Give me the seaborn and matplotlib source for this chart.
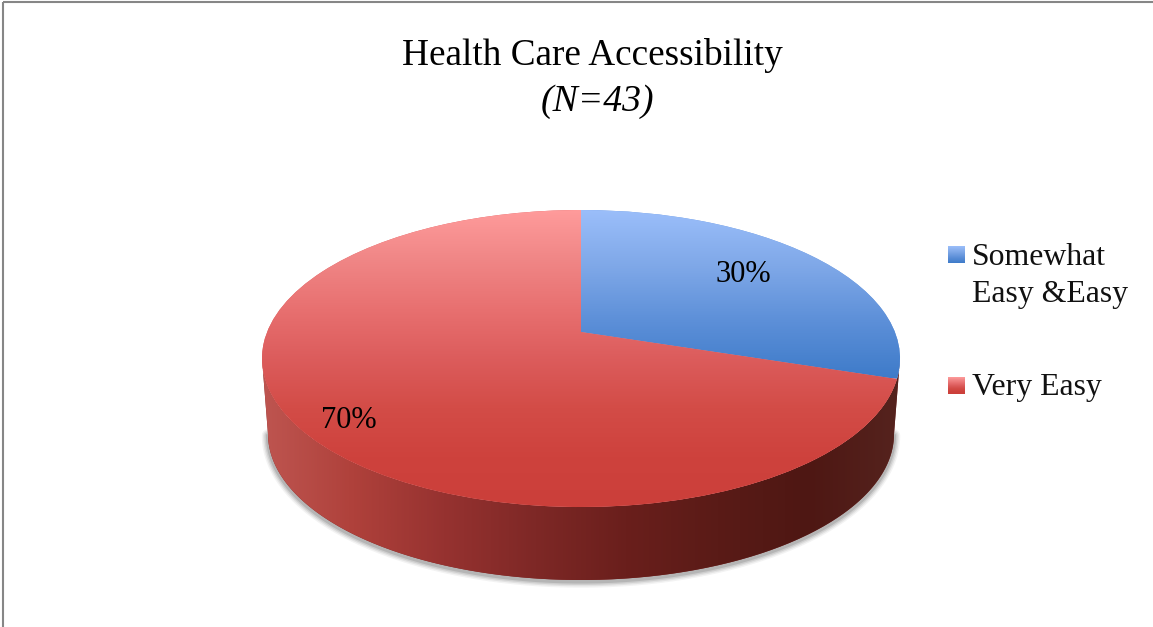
import numpy as np
import matplotlib
matplotlib.use("Agg")
import matplotlib.pyplot as plt
from matplotlib.patches import PathPatch, Rectangle
from matplotlib.path import Path
from matplotlib.transforms import Transform
import seaborn as sns

# ---- data ----
categories = ["Somewhat\nEasy &Easy", "Very Easy"]
values = [30, 70]
title_line = "Health Care Accessibility"
subtitle_line = "(N=43)"

# ---- style ----
sns.set_theme(style="white")
plt.rcParams["font.family"] = ["Liberation Serif", "DejaVu Serif"]

W, H = 1153, 627
blue_top = ["#9BBEFA", "#7FA8E8", "#5C8FD8", "#3E7BC9"]
red_top = ["#FF9B9B", "#F08686", "#E87070", "#DC5C5C", "#D34C47", "#CE423D", "#CB3F3A"]
red_side = ["#BE5550", "#AF413B", "#963230", "#7E2826", "#6A1F1C", "#5A1B17", "#4E1713", "#55231E"]
blue_cmap = sns.blend_palette(blue_top, as_cmap=True)
red_cmap = sns.blend_palette(red_top, as_cmap=True)
side_cmap = sns.blend_palette(red_side, as_cmap=True)

# geometry of the tilted disc, in figure pixels
CX = 581.0
TOP, APEX, BOTTOM = 210.0, 332.0, 507.0
RX = 319.0
DEPTH_BOTTOM = 580.0
RX_LOW, RY_LOW = 313.0, 146.0

C = (2 * APEX - TOP - BOTTOM) / (BOTTOM - TOP) * -1
A = TOP * (1 + C) - APEX
D = RX * np.sqrt(1 - C ** 2)


class Perspective(Transform):
    """Projects the unit-circle pie onto the tilted plane of the disc."""
    input_dims = output_dims = 2
    is_separable = False
    has_inverse = False

    def transform_non_affine(self, values):
        v = np.asarray(values, dtype=float)
        den = 1 + C * v[:, 1]
        return np.column_stack([CX + D * v[:, 0] / den, (A * v[:, 1] + APEX) / den])


fig = plt.figure(figsize=(W / 100, H / 100), dpi=100, facecolor="white")
ax = fig.add_axes([0, 0, 1, 1])

wedges, _, autotexts = ax.pie(
    values, startangle=90, counterclock=False, radius=1,
    colors=["#6C9ADF", "#DF6060"], autopct="%d%%", labels=None,
    wedgeprops={"linewidth": 0}, textprops={"fontsize": 22, "color": "black"},
)
ax.set(aspect="auto", xlim=(0, W), ylim=(H, 0))
ax.set_axis_off()

persp = Perspective()
grad_v = np.linspace(0, 1, 256)[:, None]
grad_h = np.linspace(0, 1, 512)[None, :]

# side wall of the disc
ELL_CY = (TOP + BOTTOM) / 2
ELL_RY = (BOTTOM - TOP) / 2
t = np.linspace(np.pi, 2 * np.pi, 240)
upper = np.column_stack([CX + RX * np.cos(t), ELL_CY - ELL_RY * np.sin(t)])
low_cy = DEPTH_BOTTOM - RY_LOW
lower = np.column_stack([CX + RX_LOW * np.cos(t), low_cy - RY_LOW * np.sin(t)])[::-1]
side_path = Path(np.vstack([upper, lower, upper[:1]]))

# soft shadow below the wall
for lw, alpha in zip([9, 7, 5, 3], [0.07, 0.10, 0.14, 0.20]):
    ax.plot(lower[:, 0], lower[:, 1] + 1.5, color="#555555", lw=lw, alpha=alpha,
            solid_capstyle="round", zorder=1)

side_patch = PathPatch(side_path, facecolor="#7E2826", edgecolor="none", zorder=2,
                       transform=ax.transData)
ax.add_patch(side_patch)
side_im = ax.imshow(grad_h, cmap=side_cmap, extent=(CX - RX, CX + RX, DEPTH_BOTTOM, TOP),
                    aspect="auto", zorder=2.1)
side_im.set_clip_path(side_patch)

# top faces, with vertical gradients
extents = [(CX - RX, CX + RX, 378, TOP), (CX - RX, CX + RX, BOTTOM, TOP)]
for wedge, cmap, ext in zip(wedges, [blue_cmap, red_cmap], extents):
    wedge.set_transform(persp + ax.transData)
    wedge.set_zorder(3)
    im = ax.imshow(grad_v, cmap=cmap, extent=ext, aspect="auto", zorder=3.1)
    im.set_clip_path(wedge)

ax.set(xlim=(0, W), ylim=(H, 0))

# percent labels
for txt, pos in zip(autotexts, [(743, 274), (349, 421)]):
    txt.set_position(pos)
    txt.set_ha("center")
    txt.set_va("center")
    txt.set_zorder(5)

# title
ax.text(592, 65, title_line, ha="center", va="baseline", fontsize=26.8, color="black", zorder=5)
ax.text(597, 111, subtitle_line, ha="center", va="baseline", fontsize=27.2, style="italic",
        color="black", zorder=5)

# legend
swatch_y = [246, 377]
text_y = [265, 395]
line_gap = 37
for name, cmap, sy, ty in zip(categories, [blue_cmap, red_cmap], swatch_y, text_y):
    ax.imshow(grad_v, cmap=cmap, extent=(948, 965, sy + 17, sy), aspect="auto", zorder=4)
    for i, line in enumerate(name.split("\n")):
        ax.text(972, ty + i * line_gap, line, ha="left", va="baseline", fontsize=22.9,
                color="#111111", zorder=5)
ax.set(xlim=(0, W), ylim=(H, 0))

# frame of the original picture
ax.add_patch(Rectangle((2.5, 2), W + 20, H + 20, fill=False, edgecolor="#868686", lw=1.5, zorder=6))

fig.savefig("out.png", dpi=100, facecolor="white")
